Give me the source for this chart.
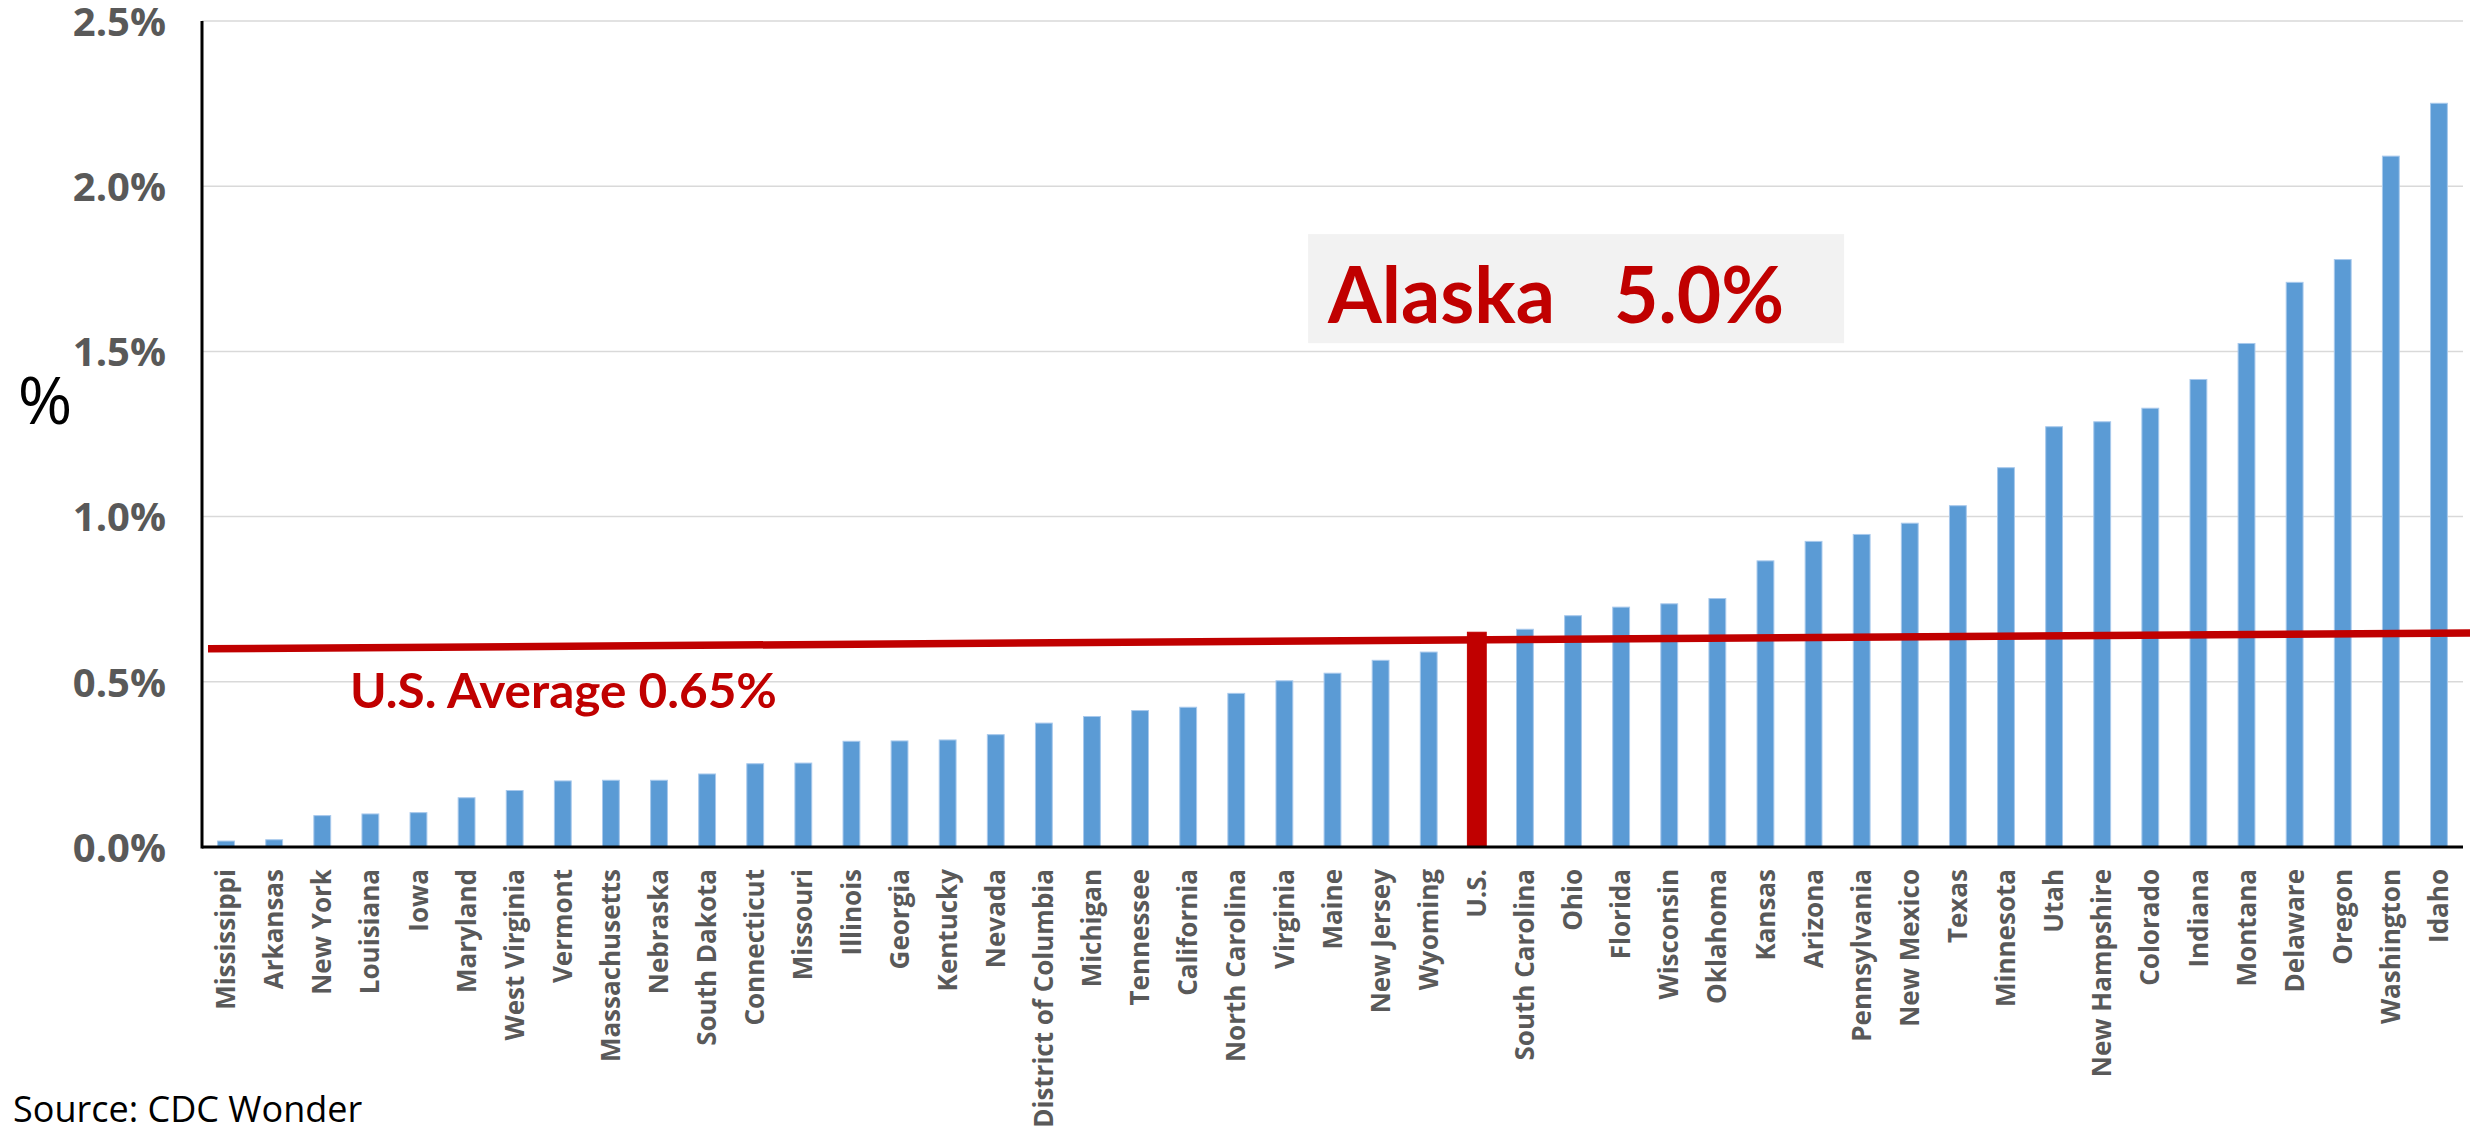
<!DOCTYPE html>
<html>
<head>
<meta charset="utf-8">
<script src="https://cdn.jsdelivr.net/npm/d3@7"></script>
<style>
  body { margin: 0; background: #fff; }
  svg { display: block; }
</style>
</head>
<body>
<div id="chart"></div>
<script>
const states = [
  'Mississippi', 'Arkansas', 'New York', 'Louisiana', 'Iowa', 'Maryland',
  'West Virginia', 'Vermont', 'Massachusetts', 'Nebraska', 'South Dakota',
  'Connecticut', 'Missouri', 'Illinois', 'Georgia', 'Kentucky', 'Nevada',
  'District of Columbia', 'Michigan', 'Tennessee', 'California',
  'North Carolina', 'Virginia', 'Maine', 'New Jersey', 'Wyoming', 'U.S.',
  'South Carolina', 'Ohio', 'Florida', 'Wisconsin', 'Oklahoma', 'Kansas',
  'Arizona', 'Pennsylvania', 'New Mexico', 'Texas', 'Minnesota', 'Utah',
  'New Hampshire', 'Colorado', 'Indiana', 'Montana', 'Delaware', 'Oregon',
  'Washington', 'Idaho'
]

const rates = [
  0.018, 0.022, 0.095, 0.100, 0.104, 0.149,
  0.171, 0.200, 0.202, 0.202, 0.221,
  0.252, 0.254, 0.320, 0.321, 0.324, 0.340,
  0.375, 0.395, 0.413, 0.423,
  0.465, 0.503, 0.526, 0.565, 0.590, 0.650,
  0.659, 0.700, 0.726, 0.736, 0.752, 0.866,
  0.925, 0.946, 0.980, 1.033, 1.148, 1.272,
  1.287, 1.328, 1.415, 1.524, 1.709, 1.778,
  2.091, 2.251
]

const yTicks = [0, 0.5, 1.0, 1.5, 2.0, 2.5]

// the hand-drawn average line is slightly tilted in the original
const avgLine = [0.600, 0.648]
const avgLabel = 'U.S. Average 0.65%'
const alaskaName = 'Alaska'
const alaskaValue = '5.0%'

const width = 2470
const height = 1139
const margin = { top: 21, left: 202, right: 7, bottom: 292 }

const red = '#c00000'
const blue = '#5b9bd5'

const svg = d3
  .select('#chart')
  .append('svg')
  .attr('width', width)
  .attr('height', height)

const xPositionScale = d3
  .scaleBand()
  .domain(states)
  .range([margin.left, width - margin.right])
  .paddingInner(0.65)
  .paddingOuter(0.325)

const yPositionScale = d3
  .scaleLinear()
  .domain([0, 2.5])
  .range([height - margin.bottom, margin.top])

const datapoints = states.map((s, i) => ({ state: s, rate: rates[i] }))

// gridlines
svg
  .append('g')
  .selectAll('line')
  .data(yTicks.slice(1))
  .enter()
  .append('line')
  .attr('x1', margin.left)
  .attr('x2', width - margin.right)
  .attr('y1', d => yPositionScale(d))
  .attr('y2', d => yPositionScale(d))
  .attr('stroke', '#d9d9d9')
  .attr('stroke-width', 1.5)

// y tick labels
svg
  .append('g')
  .selectAll('text')
  .data(yTicks)
  .enter()
  .append('text')
  .attr('x', 166)
  .attr('y', d => yPositionScale(d))
  .attr('dy', '0.37em')
  .attr('text-anchor', 'end')
  .attr('font-family', 'Open Sans')
  .attr('font-weight', 700)
  .attr('font-size', 40)
  .attr('fill', '#595959')
  .text(d => d.toFixed(1) + '%')

// bars
svg
  .append('g')
  .selectAll('rect')
  .data(datapoints)
  .enter()
  .append('rect')
  .attr('x', d => xPositionScale(d.state) - (d.state === 'U.S.' ? 1 : 0))
  .attr('width', d => xPositionScale.bandwidth() + (d.state === 'U.S.' ? 2 : 0))
  .attr('y', d => yPositionScale(d.rate))
  .attr('height', d => yPositionScale(0) - yPositionScale(d.rate))
  .attr('fill', d => (d.state === 'U.S.' ? red : blue))
  .attr('stroke', d => (d.state === 'U.S.' ? red : '#a8c9ec'))
  .attr('stroke-width', 1)

// axes lines
svg
  .append('line')
  .attr('x1', margin.left)
  .attr('x2', width - margin.right)
  .attr('y1', yPositionScale(0))
  .attr('y2', yPositionScale(0))
  .attr('stroke', '#000')
  .attr('stroke-width', 3)

svg
  .append('line')
  .attr('x1', margin.left)
  .attr('x2', margin.left)
  .attr('y1', yPositionScale(2.5))
  .attr('y2', yPositionScale(0) + 1.5)
  .attr('stroke', '#000')
  .attr('stroke-width', 3)

// x labels
svg
  .append('g')
  .selectAll('text')
  .data(states)
  .enter()
  .append('text')
  .attr('transform', d => {
    const cx = xPositionScale(d) + xPositionScale.bandwidth() / 2
    return 'translate(' + cx + ',' + (yPositionScale(0) + 22) + ') rotate(-90)'
  })
  .attr('dy', '0.35em')
  .attr('text-anchor', 'end')
  .attr('font-family', 'Open Sans')
  .attr('font-weight', 700)
  .attr('font-size', 26)
  .attr('fill', '#595959')
  .text(d => d)

// average line
svg
  .append('line')
  .attr('x1', margin.left + 6)
  .attr('x2', width)
  .attr('y1', yPositionScale(avgLine[0]))
  .attr('y2', yPositionScale(avgLine[1]))
  .attr('stroke', red)
  .attr('stroke-width', 7.5)

svg
  .append('text')
  .attr('x', xPositionScale('Louisiana') - 12)
  .attr('y', yPositionScale(0.42))
  .attr('font-family', 'Lato')
  .attr('font-weight', 700)
  .attr('font-size', 48)
  .attr('textLength', 427)
  .attr('lengthAdjust', 'spacingAndGlyphs')
  .attr('fill', red)
  .text(avgLabel)

// Alaska call-out
const boxLeft = xPositionScale('Maine') - 16
svg
  .append('rect')
  .attr('x', boxLeft)
  .attr('y', yPositionScale(1.855))
  .attr('width', 536)
  .attr('height', yPositionScale(1.525) - yPositionScale(1.855))
  .attr('fill', '#f2f2f2')

svg
  .append('text')
  .attr('x', boxLeft + 20)
  .attr('y', yPositionScale(1.585))
  .attr('font-family', 'Lato')
  .attr('font-weight', 700)
  .attr('font-size', 78)
  .attr('textLength', 227)
  .attr('lengthAdjust', 'spacingAndGlyphs')
  .attr('fill', red)
  .text(alaskaName)

svg
  .append('text')
  .attr('x', boxLeft + 306)
  .attr('y', yPositionScale(1.585))
  .attr('font-family', 'Lato')
  .attr('font-weight', 700)
  .attr('font-size', 78)
  .attr('textLength', 170)
  .attr('lengthAdjust', 'spacingAndGlyphs')
  .attr('fill', red)
  .text(alaskaValue)

// axis title and source
svg
  .append('text')
  .attr('x', 45)
  .attr('y', 424)
  .attr('text-anchor', 'middle')
  .attr('font-family', 'Open Sans')
  .attr('font-size', 66)
  .attr('fill', '#000')
  .text('%')

svg
  .append('text')
  .attr('x', 13)
  .attr('y', 1122)
  .attr('font-family', 'Open Sans')
  .attr('font-size', 36)
  .attr('fill', '#000')
  .text('Source: CDC Wonder')
</script>
</body>
</html>
